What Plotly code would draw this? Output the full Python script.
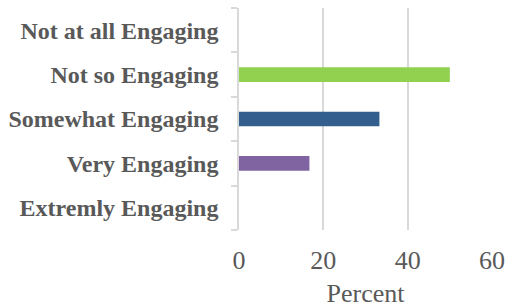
import plotly.graph_objects as go

categories = ["Extremly Engaging", "Very Engaging", "Somewhat Engaging", "Not so Engaging", "Not at all Engaging"]
values = [0, 16.7, 33.3, 50, 0]
colors = ["#4472C4", "#8064A2", "#335F8F", "#92D050", "#C0504D"]
x_ticks = [0, 20, 40, 60]

fig = go.Figure(go.Bar(
    y=categories, x=values, orientation="h",
    marker=dict(color=colors, line=dict(width=0)),
    width=0.33,
))

font_family = "Liberation Serif, Times New Roman, serif"
fig.update_layout(
    width=506, height=308,
    margin=dict(l=239, r=14, t=8, b=78),
    plot_bgcolor="white", paper_bgcolor="white",
    showlegend=False,
    font=dict(family=font_family, color="#595959"),
    xaxis=dict(
        range=[0, 60], tickvals=x_ticks, showgrid=True, gridcolor="#D9D9D9", gridwidth=1.5,
        zeroline=False, showline=False, ticks="", automargin=False,
        tickfont=dict(size=26, family=font_family, color="#595959"),
        ticklabelstandoff=12,
        title=dict(text="Percent", font=dict(size=26, family=font_family, color="#595959"), standoff=14),
    ),
    yaxis=dict(
        categoryorder="array", categoryarray=categories, automargin=False,
        showline=True, linecolor="#D9D9D9", linewidth=1.5,
        ticks="outside", ticklen=6, tickcolor="#D9D9D9", tickwidth=1.5,
        tickson="boundaries", showgrid=False, zeroline=False,
        tickfont=dict(size=24, family=font_family, color="#595959", weight="bold"),
        ticklabelstandoff=14,
    ),
)

fig.write_html(
    "out.html",
    config={"displayModeBar": False},
    post_script="document.body.style.margin='0';document.body.style.overflow='hidden';",
)
